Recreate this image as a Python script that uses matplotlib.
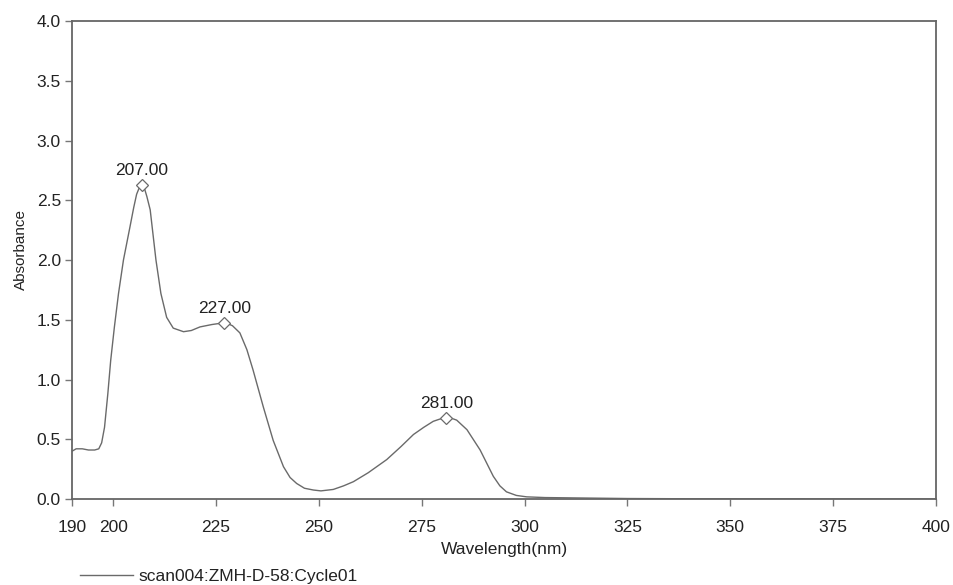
import matplotlib
matplotlib.use("Agg")
import matplotlib.pyplot as plt
from matplotlib.lines import Line2D

# spectrum
wavelength = [190, 191, 192.5, 194, 195.5, 196.5, 197.2, 197.9, 198.7, 199.4,
              200.3, 201.3, 202.5, 204.1, 205.0, 205.7, 206.4, 207.0, 207.6,
              208.2, 209.0, 210.4, 211.6, 213.0, 214.6, 217.1, 219.0, 221.1,
              224.0, 226.0, 227.0, 228.0, 229.0, 230.8, 232.5, 234.0, 236.5,
              238.9, 241.4, 243.0, 244.6, 246.5, 248.7, 250.5, 253.5, 256.0,
              258.4, 262.0, 266.5, 270.0, 273.0, 275.5, 277.8, 279.5, 281.0,
              282.3, 283.5, 286.0, 289.2, 292.4, 294.0, 295.6, 298.0,
              300.5, 305, 315, 325, 340, 400]
absorbance = [0.40, 0.42, 0.42, 0.41, 0.41, 0.42, 0.47, 0.60, 0.88, 1.16,
              1.44, 1.72, 2.00, 2.28, 2.44, 2.55, 2.61, 2.63, 2.60,
              2.53, 2.42, 2.00, 1.72, 1.52, 1.43, 1.40, 1.41, 1.44,
              1.46, 1.47, 1.47, 1.465, 1.45, 1.39, 1.25, 1.08, 0.77,
              0.49, 0.27, 0.18, 0.13, 0.09, 0.075, 0.068, 0.08, 0.11,
              0.145, 0.22, 0.33, 0.44, 0.54, 0.60, 0.65, 0.67, 0.68,
              0.675, 0.66, 0.58, 0.41, 0.19, 0.11, 0.06, 0.03,
              0.018, 0.012, 0.008, 0.004, 0.002, 0.0]

peak_x = [207, 227, 281]
peak_y = [2.63, 1.47, 0.68]
peak_labels = ["207.00", "227.00", "281.00"]

x_ticks = [190, 200, 225, 250, 275, 300, 325, 350, 375, 400]
y_ticks = [0.0, 0.5, 1.0, 1.5, 2.0, 2.5, 3.0, 3.5, 4.0]

plt.rcParams['font.family'] = ['Liberation Sans', 'DejaVu Sans']
text_col = '#222222'
line_col = '#6a6a6a'
fs = 12.5

fig = plt.figure(figsize=(9.54, 5.85), dpi=100)
ax = fig.add_axes([0.0755, 0.147, 0.9056, 0.8171])

ax.plot(wavelength, absorbance, color=line_col, lw=1.0)
ax.plot(peak_x, peak_y, linestyle='none', marker='D', markersize=6,
        markerfacecolor='white', markeredgecolor=line_col, markeredgewidth=0.9)
for px, py, lab in zip(peak_x, peak_y, peak_labels):
    ax.annotate(lab, (px, py), xytext=(0, 5), textcoords='offset points',
                ha='center', va='bottom', fontsize=fs, color=text_col)

ax.set_xlim(190, 400)
ax.set_ylim(0, 4.0)
ax.set_xticks(x_ticks)
ax.set_yticks(y_ticks)
ax.set_yticklabels([f"{v:.1f}" for v in y_ticks])
ax.tick_params(direction='out', length=5, width=1.0, color='#777777',
               labelsize=fs, labelcolor=text_col)
ax.tick_params(axis='x', pad=10)
ax.tick_params(axis='y', pad=3)
for s in ax.spines.values():
    s.set_color('#666666')
    s.set_linewidth(1.3)

ax.set_xlabel('Wavelength(nm)', fontsize=fs, color=text_col, labelpad=5)
ax.set_ylabel('Absorbance', fontsize=11, color=text_col)
ax.yaxis.set_label_coords(-0.051, 0.521)

# legend entry below the axes
fig.lines.append(Line2D([80 / 954, 133 / 954], [1 - 575 / 585, 1 - 575 / 585],
                        transform=fig.transFigure, color=line_col, lw=1.0))
fig.text(138 / 954, 1 - 576 / 585, 'scan004:ZMH-D-58:Cycle01', fontsize=fs,
         color=text_col, va='center', ha='left')

fig.savefig('out.png', dpi=100)
